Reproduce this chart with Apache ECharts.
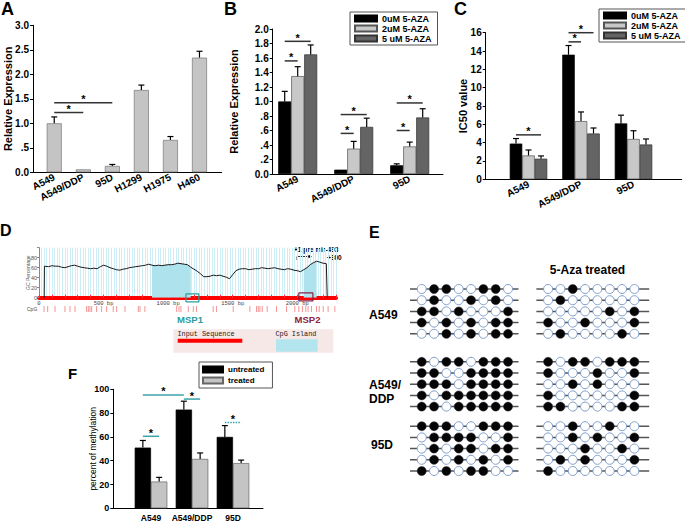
<!DOCTYPE html>
<html><head><meta charset="utf-8">
<script src="https://cdn.jsdelivr.net/npm/echarts@6/dist/echarts.min.js"></script>
<style>html,body{margin:0;padding:0;background:#fff}#c{width:685px;height:523px}</style>
</head><body><div id="c"></div>
<script>
// ================= DATA =================
// Panel A
const cellLinesA = ['A549', 'A549/DDP', '95D', 'H1299', 'H1975', 'H460'];
const exprA = [1.0, 0.06, 0.13, 1.68, 0.66, 2.34];
const exprErrA = [0.13, 0, 0.03, 0.10, 0.07, 0.13];
const ticksA = ['0.0', '.5', '1.0', '1.5', '2.0', '2.5', '3.0'];
const sigA = [[0, 0, 2, 0, 1.42], [0, 0, 1, 0, 1.22]];

// Panels B, C
const cellLines3 = ['A549', 'A549/DDP', '95D'];
const azaDoses = ['0uM 5-AZA', '2uM 5-AZA', '5 uM 5-AZA'];
const exprB0 = [1.0, 0.06, 0.12];   const exprB0Err = [0.14, 0, 0.02];
const exprB2 = [1.35, 0.35, 0.38];  const exprB2Err = [0.13, 0.10, 0.06];
const exprB5 = [1.65, 0.65, 0.78];  const exprB5Err = [0.13, 0.12, 0.12];
const ticksB = ['0.0', '.2', '.4', '.6', '.8', '1.0', '1.2', '1.4', '1.6', '1.8', '2.0'];
const sigB = [[0, 0, 0, 1, 1.56], [0, 0, 0, 2, 1.83], [1, 0, 1, 1, 0.56], [1, 0, 1, 2, 0.82], [2, 0, 2, 1, 0.60], [2, 0, 2, 2, 0.98]];

const ic50C0 = [3.9, 13.6, 6.1];   const ic50C0Err = [0.55, 1.0, 0.9];
const ic50C2 = [2.6, 6.35, 4.4];   const ic50C2Err = [0.6, 1.0, 0.9];
const ic50C5 = [2.25, 5.0, 3.8];   const ic50C5Err = [0.3, 0.6, 0.6];
const ticksC = ['0', '2', '4', '6', '8', '10', '12', '14', '16'];
const sigC = [[0, 0, 0, 2, 4.85], [1, 0, 1, 1, 15.0], [1, 0, 1, 2, 16.0]];

// Panel F
const methStates = ['untreated', 'treated'];
const methUntreated = [51, 83, 60];   const methUntreatedErr = [6, 7, 9.5];
const methTreated = [22.5, 41.5, 38]; const methTreatedErr = [3.5, 5, 2.5];
const ticksF = ['0', '20', '40', '60', '80', '100'];
const sigF = [[0, 0, 1, 0, 95.3, 0], [1, 0, 1, 1, 91.8, 0], [0, 0, 0, 1, 60.5, 0], [2, 0, 2, 1, 72, 1]];

// Panel D (GC percentage along sequence, bp)
const gcBp =  [40, 42, 75, 100, 125, 150, 175, 200, 225, 250, 275, 300, 325, 350, 375, 400, 425, 450, 475, 500, 525, 550, 575, 600, 625, 650, 675, 700, 725, 750, 775, 800, 825, 850, 875, 900, 925, 950, 975, 1000, 1025, 1050, 1075, 1100, 1125, 1150, 1175, 1200, 1225, 1250, 1275, 1300, 1325, 1350, 1375, 1400, 1425, 1450, 1475, 1500, 1525, 1550, 1575, 1600, 1625, 1650, 1675, 1700, 1725, 1750, 1775, 1800, 1825, 1850, 1875, 1900, 1925, 1950, 1975, 2000, 2025, 2050, 2075, 2100, 2125, 2150, 2175, 2200, 2225, 2232];
const gcPct = [0, 63, 62, 64, 63, 63, 61, 60, 62, 64, 65, 63, 61, 60, 59, 58, 59, 58, 62, 65, 63, 60, 58, 56, 55, 57, 58, 60, 61, 62, 63, 64, 65, 67, 65, 64, 65, 64, 65, 66, 66, 67, 69, 68, 67, 66, 61, 57, 53, 48, 42, 42, 43, 45, 44, 45, 43, 41, 38, 46, 54, 57, 58, 58, 56, 57, 58, 58, 60, 59, 58, 59, 60, 58, 57, 56, 58, 57, 55, 54, 52, 56, 60, 66, 70, 73, 71, 69, 68, 0];
const cpgIslands = [[855, 1190], [2040, 2150]];
const cpgSites = [39, 67, 124, 201, 240, 279, 369, 382, 395, 408, 446, 485, 524, 575, 601, 666, 769, 782, 820, 1066, 1084, 1099, 1156, 1195, 1220, 1349, 1375, 1504, 1633, 1685, 1698, 1711, 1729, 1767, 1839, 1917, 1981, 2012, 2040, 2066, 2084, 2110, 2149, 2170, 2201, 2239, 2291];
const mspRegions = [{ name: 'MSP1', from: 1138, to: 1238, lo: -8.5, hi: 7.5 }, { name: 'MSP2', from: 2012, to: 2121, lo: -6.5, hi: 9.5 }];

// Panel E (bisulfite sequencing: 1 = methylated CpG, 0 = unmethylated)
const methGroups = ['A549', 'A549/DDP', '95D'];
const bsUntreatedA549 = ['01100110', '01001010', '11010001', '10101011', '00101011'];
const bsTreatedA549   = ['00100000', '01000000', '00000101', '10010001', '01000010'];
const bsUntreatedDDP  = ['10110111', '11001111', '11101111', '10111111', '11011111'];
const bsTreatedDDP    = ['10110111', '10001001', '00101000', '10000001', '11000011'];
const bsUntreated95D  = ['11100111', '01111001', '01011011', '01010101', '10101100'];
const bsTreated95D    = ['00100100', '00101001', '00010010', '01010001', '10000000'];

// ================= BUILD =================
const FONT = 'Liberation Sans, Arial, sans-serif';
const grids = [], xAxes = [], yAxes = [], series = [], legends = [];
function addGrid(g) { grids.push(g); return grids.length - 1; }

function panel(o) {
  const fg = addGrid({ left: o.fx, top: o.top, width: o.fw, height: o.h });
  xAxes.push({ gridIndex: fg, type: 'value', min: 0, max: 1,
    axisLine: { show: true, onZero: false, lineStyle: { color: '#000', width: 1 } },
    axisTick: { show: false }, axisLabel: { show: false }, splitLine: { show: false } });
  yAxes.push({ gridIndex: fg, type: 'value', min: o.min, max: o.max, interval: o.interval,
    axisLine: { show: true, lineStyle: { color: '#000', width: 1 } },
    axisTick: { show: true, length: 3, lineStyle: { color: '#000' } },
    axisLabel: { fontSize: o.tickSize, fontWeight: 'bold', color: '#000', margin: 4, fontFamily: FONT,
      formatter: v => o.ticks[Math.round((v - o.min) / o.interval)] },
    splitLine: { show: false },
    name: o.yName, nameLocation: 'middle', nameGap: o.nameGap, nameMoveOverlap: false,
    nameTextStyle: { fontSize: o.nameSize, fontWeight: o.nameWeight, fontFamily: FONT, color: '#000' } });
  const dg = addGrid({ left: o.dx, top: o.top, width: o.dw, height: o.h });
  const dxi = xAxes.push({ gridIndex: dg, type: 'category', data: o.cats,
    axisLine: { show: false }, axisTick: { show: false }, splitLine: { show: false },
    axisLabel: { rotate: o.rotate, fontSize: o.catSize, fontWeight: 'bold', color: '#000', fontFamily: FONT, margin: o.catMargin, interval: 0 } }) - 1;
  const dyi = yAxes.push({ gridIndex: dg, type: 'value', min: o.min, max: o.max, show: false }) - 1;
  const n = o.series.length, bw = o.barW;
  o.series.forEach((s, si) => {
    series.push({ type: 'bar', name: s.name, xAxisIndex: dxi, yAxisIndex: dyi, data: s.data,
      barWidth: bw, barGap: '0%', animation: false,
      itemStyle: { color: s.color, borderColor: s.border, borderWidth: 0.7 } });
    series.push({ type: 'custom', xAxisIndex: dxi, yAxisIndex: dyi, z: 5, silent: true, animation: false,
      data: s.data.map((v, i) => [i, v, s.err[i], si]),
      renderItem: (p, api) => {
        const i = api.value(0), v = api.value(1), e = api.value(2), slot = api.value(3);
        if (!e) return { type: 'group', children: [] };
        const a = api.coord([i, v]), b = api.coord([i, v + e]);
        const x = a[0] + (slot - (n - 1) / 2) * bw;
        return { type: 'group', children: [
          { type: 'line', shape: { x1: x, y1: a[1], x2: x, y2: b[1] }, style: { stroke: '#000', lineWidth: 1.2 } },
          { type: 'line', shape: { x1: x - 3, y1: b[1], x2: x + 3, y2: b[1] }, style: { stroke: '#000', lineWidth: 1.2 } }] };
      } });
  });
  series.push({ type: 'custom', xAxisIndex: dxi, yAxisIndex: dyi, z: 6, silent: true, animation: false,
    data: o.sig.map(r => [r[0], r[1], r[2], r[3], r[4], r[5] || 0]),
    renderItem: (p, api) => {
      const y = api.value(4);
      const a = api.coord([api.value(0), y]), b = api.coord([api.value(2), y]);
      const x0 = a[0] + (api.value(1) - (n - 1) / 2) * bw, x1 = b[0] + (api.value(3) - (n - 1) / 2) * bw;
      return { type: 'group', children: [
        { type: 'line', shape: { x1: x0, y1: a[1], x2: x1, y2: a[1] },
          style: { stroke: o.sigColor, lineWidth: 1.5, lineDash: api.value(5) ? [1.5, 1.2] : null } },
        { type: 'text', x: (x0 + x1) / 2, y: a[1] + 2,
          style: { text: '*', fontSize: 11, fontWeight: 'bold', fontFamily: FONT, fill: '#000', align: 'center', verticalAlign: 'bottom' } }] };
    } });
  if (o.legend) {
    legends.push(Object.assign({ orient: 'vertical', icon: 'rect', itemWidth: o.legend.iw || 22, itemHeight: 6,
      selectedMode: false, borderColor: '#555', borderWidth: 1, backgroundColor: '#fff', borderRadius: 0,
      textStyle: { fontSize: o.legend.fs, fontWeight: 'bold', color: '#000', fontFamily: FONT, lineHeight: o.legend.lh },
      data: o.series.map(s => s.name) }, o.legend.pos));
  }
}

panel({ fx: 33, fw: 188.7, top: 25.3, h: 147, dx: 39.7, dw: 174.3, min: 0, max: 3, interval: 0.5, ticks: ticksA, tickSize: 10,
  yName: 'Relative Expression', nameGap: 20, nameSize: 11, nameWeight: 'bold',
  cats: cellLinesA, rotate: 27, catSize: 10, catMargin: 4, barW: 15, sigColor: '#333', sig: sigA,
  series: [{ name: 'Relative Expression', data: exprA, err: exprErrA, color: '#c4c4c4', border: '#777' }] });

panel({ fx: 272.7, fw: 170.3, top: 29, h: 145, dx: 269.7, dw: 168, min: 0, max: 2, interval: 0.2, ticks: ticksB, tickSize: 10,
  yName: 'Relative Expression', nameGap: 33, nameSize: 11, nameWeight: 'bold',
  cats: cellLines3, rotate: 27, catSize: 10, catMargin: 4, barW: 13, sigColor: '#333', sig: sigB,
  series: [
    { name: azaDoses[0], data: exprB0, err: exprB0Err, color: '#000000', border: '#000' },
    { name: azaDoses[1], data: exprB2, err: exprB2Err, color: '#c8c8c8', border: '#555' },
    { name: azaDoses[2], data: exprB5, err: exprB5Err, color: '#646464', border: '#333' }],
  legend: { fs: 9, lh: 9, pos: { left: 350, top: 12, itemGap: 1, padding: [2, 6, 2, 4] } } });

panel({ fx: 485.7, fw: 196, top: 32.7, h: 146.6, dx: 502.25, dw: 157.5, min: 0, max: 16, interval: 2, ticks: ticksC, tickSize: 10,
  yName: 'IC50 value', nameGap: 17, nameSize: 11, nameWeight: 'bold',
  cats: cellLines3, rotate: 27, catSize: 10, catMargin: 4, barW: 12.5, sigColor: '#333', sig: sigC,
  series: [
    { name: azaDoses[0], data: ic50C0, err: ic50C0Err, color: '#000000', border: '#000' },
    { name: azaDoses[1], data: ic50C2, err: ic50C2Err, color: '#c8c8c8', border: '#555' },
    { name: azaDoses[2], data: ic50C5, err: ic50C5Err, color: '#646464', border: '#333' }],
  legend: { fs: 9, lh: 9, pos: { left: 599, top: 9, itemGap: 1, padding: [2, 6, 2, 4] } } });

panel({ fx: 113.3, fw: 149.7, top: 389.3, h: 119, dx: 130.5, dw: 123, min: 0, max: 100, interval: 20, ticks: ticksF, tickSize: 9,
  yName: 'percent of methylation', nameGap: 16, nameSize: 8.5, nameWeight: 'normal',
  cats: cellLines3, rotate: 0, catSize: 8.5, catMargin: 5, barW: 16.3, sigColor: '#3aa3a8', sig: sigF,
  series: [
    { name: methStates[0], data: methUntreated, err: methUntreatedErr, color: '#000000', border: '#000' },
    { name: methStates[1], data: methTreated, err: methTreatedErr, color: '#c4c4c4', border: '#666' }],
  legend: { fs: 8, lh: 9, iw: 20, pos: { left: 199, top: 362, itemGap: 2, padding: [3, 8, 3, 3] } } });

// ---------- Panel D ----------
const gD = addGrid({ left: 39, top: 247.7, width: 297, height: 50 });
const xD = xAxes.push({ gridIndex: gD, type: 'value', min: 0, max: 2300, interval: 500,
  axisLine: { show: true, lineStyle: { color: '#ff0000', width: 4 } },
  axisTick: { show: true, inside: true, length: 3, lineStyle: { color: '#ff3030', width: 1 } },
  minorTick: { show: true, splitNumber: 5, length: 3, lineStyle: { color: '#ff3030', width: 1 } },
  axisLabel: { fontSize: 5.5, color: '#444', fontFamily: 'Liberation Mono, monospace', margin: 3,
    formatter: v => (v === 0 ? '0' : (v % 500 === 0 ? v + ' bp' : '')) },
  splitLine: { show: false } }) - 1;
const xDs = xAxes.push({ gridIndex: gD, type: 'value', min: 0, max: 2300, interval: 20,
  axisLine: { show: false }, axisTick: { show: false }, axisLabel: { show: false },
  splitLine: { show: true, lineStyle: { color: '#cdeef5', width: 1 } } }) - 1;
const yD = yAxes.push({ gridIndex: gD, type: 'value', min: 0, max: 100, interval: 20,
  axisLine: { show: true, lineStyle: { color: '#888' } },
  axisTick: { show: true, length: 2, lineStyle: { color: '#888' } },
  axisLabel: { fontSize: 5.5, color: '#555', margin: 2, fontFamily: FONT, formatter: v => (v < 100 ? String(v) : '') },
  splitLine: { show: false },
  name: 'GC Percentage', nameLocation: 'middle', nameGap: 9, nameMoveOverlap: false,
  nameTextStyle: { fontSize: 5, color: '#555', fontFamily: FONT } }) - 1;
const gcData = gcBp.map((b, i) => [b, gcPct[i]]);
cpgIslands.forEach(r => {
  series.push({ type: 'line', xAxisIndex: xD, yAxisIndex: yD, silent: true, animation: false, symbol: 'none', z: 2,
    data: gcData.filter(d => d[0] >= r[0] && d[0] <= r[1]),
    lineStyle: { width: 0 }, areaStyle: { color: '#aee2ec', opacity: 1 } });
});
series.push({ type: 'line', xAxisIndex: xD, yAxisIndex: yD, silent: true, animation: false, symbol: 'none', z: 3,
  data: gcData, lineStyle: { color: '#1a1a1a', width: 1 } });
const mspColors = ['#2a9d9d', '#8c2342'];
mspRegions.forEach((m, i) => {
  series.push({ type: 'line', xAxisIndex: xD, yAxisIndex: yD, silent: true, animation: false, symbol: 'none', z: 4, clip: false,
    data: [[m.from, m.lo], [m.to, m.lo], [m.to, m.hi], [m.from, m.hi], [m.from, m.lo]],
    lineStyle: { color: mspColors[i], width: 1.2 } });
});
const gCpG = addGrid({ left: 39, top: 306, width: 297, height: 6 });
const xC = xAxes.push({ gridIndex: gCpG, type: 'value', min: 0, max: 2300, show: false }) - 1;
const yC = yAxes.push({ gridIndex: gCpG, type: 'value', min: 0, max: 1, show: false }) - 1;
series.push({ type: 'scatter', xAxisIndex: xC, yAxisIndex: yC, silent: true, animation: false,
  symbol: 'rect', symbolSize: [1, 6], itemStyle: { color: '#f07b7b' }, data: cpgSites.map(b => [b, 0.5]) });

// ---------- Panel E ----------
const gE = addGrid({ left: 409.4, top: 277.8, width: 240.4, height: 207.2 });
const xE = xAxes.push({ gridIndex: gE, type: 'value', min: -1, max: 18.5, show: false }) - 1;
const yE = yAxes.push({ gridIndex: gE, type: 'value', min: -1, max: 17.5, inverse: true, show: false }) - 1;
const groupStart = [0, 6.5, 12.25], sideOffset = 10.25;
const bsSets = [[bsUntreatedA549, bsTreatedA549], [bsUntreatedDDP, bsTreatedDDP], [bsUntreated95D, bsTreated95D]];
const filled = [], open = [], rows = [];
bsSets.forEach((pair, g) => pair.forEach((rowsArr, side) => rowsArr.forEach((str, r) => {
  const y = groupStart[g] + r, x0 = side * sideOffset;
  rows.push([x0 - 0.95, x0 + (side ? 8.2 : 7.85), y]);
  str.split('').forEach((c, k) => (c === '1' ? filled : open).push([x0 + k, y]));
})));
series.push({ type: 'custom', xAxisIndex: xE, yAxisIndex: yE, silent: true, animation: false, z: 2, data: rows,
  renderItem: (p, api) => {
    const a = api.coord([api.value(0), api.value(2)]), b = api.coord([api.value(1), api.value(2)]);
    return { type: 'line', shape: { x1: a[0], y1: a[1], x2: b[0], y2: b[1] }, style: { stroke: '#555', lineWidth: 1.5 } };
  } });
series.push({ type: 'scatter', xAxisIndex: xE, yAxisIndex: yE, silent: true, animation: false, z: 3, symbolSize: 9,
  itemStyle: { color: '#fff', borderColor: '#7f9ecb', borderWidth: 1, opacity: 1 }, data: open });
series.push({ type: 'scatter', xAxisIndex: xE, yAxisIndex: yE, silent: true, animation: false, z: 3, symbolSize: 9,
  itemStyle: { color: '#050505', borderColor: '#223', borderWidth: 0.5, opacity: 1 }, data: filled });

// ---------- text / decorations ----------
function txt(x, y, text, size, opts) {
  return Object.assign({ type: 'text', x: x, y: y, silent: true,
    style: Object.assign({ text: text, fontSize: size, fontWeight: 'bold', fontFamily: FONT, fill: '#000', align: 'left', verticalAlign: 'top' }, opts || {}) });
}
const graphic = [
  txt(1, 0, 'A', 18), txt(224, 0, 'B', 18), txt(454, 0, 'C', 18),
  txt(0, 222, 'D', 16), txt(369, 224, 'E', 16), txt(68, 365.5, 'F', 15),
  // panel D annotations
  txt(294, 246, '+1 pre mir-493', 6.5),
  txt(327, 254, '+300', 6.5),
  { type: 'polyline', silent: true, shape: { points: [[297, 260], [297, 256.5], [309, 256.5]] }, style: { stroke: '#000', lineWidth: 0.8, fill: null } },
  { type: 'polygon', silent: true, shape: { points: [[308.5, 254.7], [312, 256.5], [308.5, 258.3]] }, style: { fill: '#000' } },
  txt(190, 319, 'MSP1', 9.5, { fill: mspColors[0], align: 'center', verticalAlign: 'middle' }),
  txt(307.5, 319, 'MSP2', 9.5, { fill: mspColors[1], align: 'center', verticalAlign: 'middle' }),
  txt(27, 306.5, 'CpG', 5, { fontWeight: 'normal', fill: '#444' }),
  { type: 'rect', silent: true, shape: { x: 173.3, y: 329.3, width: 160, height: 23.4 }, style: { fill: '#f7e8e8' } },
  txt(177.5, 330.5, 'Input Sequence', 6.8, { fontFamily: 'Liberation Mono, monospace', fontWeight: 'normal', fill: '#222' }),
  { type: 'rect', silent: true, shape: { x: 177.7, y: 338.7, width: 64.6, height: 4 }, style: { fill: '#ff0000' } },
  txt(275.5, 330.5, 'CpG Island', 6.8, { fontFamily: 'Liberation Mono, monospace', fontWeight: 'normal', fill: '#222' }),
  { type: 'rect', silent: true, shape: { x: 276, y: 339.3, width: 41.7, height: 12.4 }, style: { fill: '#b3e5ee' } },
  // panel E labels
  txt(587.5, 270, '5-Aza treated', 12, { align: 'center', verticalAlign: 'middle' }),
  txt(369, 315, methGroups[0], 12, { verticalAlign: 'middle' }),
  txt(369, 385, 'A549/', 12, { verticalAlign: 'middle' }),
  txt(369, 398.5, 'DDP', 12, { verticalAlign: 'middle' }),
  txt(371, 445, methGroups[2], 12, { verticalAlign: 'middle' })
];

const chart = echarts.init(document.getElementById('c'), null, { renderer: 'svg', width: 685, height: 523 });
chart.setOption({
  animation: false, backgroundColor: '#fff', textStyle: { fontFamily: FONT },
  grid: grids, xAxis: xAxes, yAxis: yAxes, legend: legends, series: series, graphic: graphic
});
</script></body></html>
